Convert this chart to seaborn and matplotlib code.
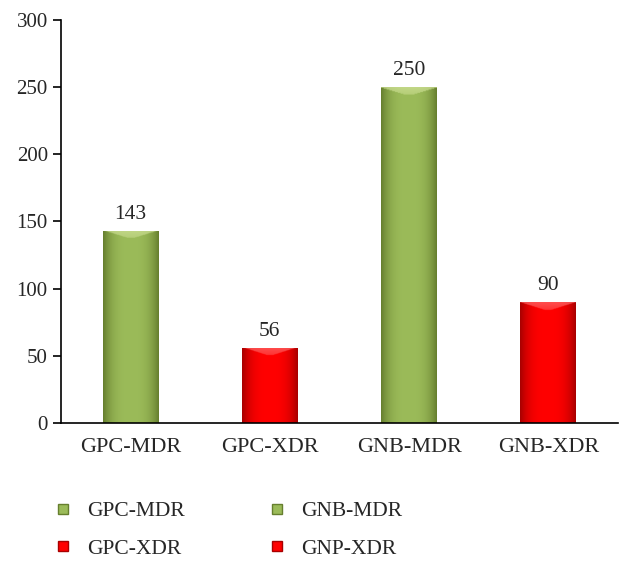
import numpy as np
import pandas as pd
import matplotlib
matplotlib.use('Agg')
import matplotlib.pyplot as plt
import seaborn as sns
from matplotlib.colors import to_rgb
from matplotlib.lines import Line2D

# 데이터
categories = ['GPC-MDR', 'GPC-XDR', 'GNB-MDR', 'GNB-XDR']
counts = [143, 56, 250, 90]
legend_labels = ['GPC-MDR', 'GPC-XDR', 'GNB-MDR', 'GNP-XDR']
yticks = [0, 50, 100, 150, 200, 250, 300]

green = '#9BBB59'
red = '#FF0000'
palette = {'GPC-MDR': green, 'GPC-XDR': red, 'GNB-MDR': green, 'GNB-XDR': red}
dark = {green: '#667F2E', red: '#A80000'}
light = {green: '#D2E39A', red: '#FF7070'}

sns.set_style('white')
plt.rcParams['font.family'] = ['Liberation Serif', 'DejaVu Serif']

df = pd.DataFrame({'cat': categories, 'n': counts})

fig = plt.figure(figsize=(6.34, 5.67), dpi=100)
ax = fig.add_axes([0.0962, 0.254, 0.8785, 0.711])
sns.barplot(data=df, x='cat', y='n', hue='cat', palette=palette, width=0.4,
            legend=False, ax=ax, saturation=1, edgecolor='none')

ax.set_xlim(-0.5, 3.5)
ax.set_ylim(0, 300)

# 막대 입체 효과 (가로 그라데이션 + 윗면 하이라이트)
xs = np.linspace(-1, 1, 80)
tx = 1 - np.abs(xs) ** 3
for p in list(ax.patches):
    fc = p.get_facecolor()[:3]
    key = green if np.allclose(fc, to_rgb(green), atol=0.02) else red
    b, d, l = np.array(to_rgb(key)), np.array(to_rgb(dark[key])), np.array(to_rgb(light[key]))
    x0, y0 = p.get_x(), p.get_y()
    w, h = p.get_width(), p.get_height()
    nrow = 400
    img = d + (b - d) * tx[None, :, None] * np.ones((nrow, 1, 1))
    band = int(nrow * 6.0 / h)
    for r in range(band):
        # 윗면 사다리꼴 모양 하이라이트
        edge = 1 - r / max(band, 1)
        inside = np.abs(xs) <= 1 - (r / max(band, 1)) * 0.9
        a = 0.45 + 0.25 * edge
        img[r, inside] = img[r, inside] * (1 - a) + l * a
    im = ax.imshow(np.clip(img, 0, 1), extent=[x0, x0 + w, y0, y0 + h], aspect='auto',
                   zorder=p.get_zorder() + 0.1, interpolation='bilinear')
    im.set_clip_path(p)
    ax.text(x0 + w / 2, y0 + h + 5, f'{int(round(h))}', ha='center', va='bottom',
            fontsize=15.5)

ax.set_xlim(-0.5, 3.5)
ax.set_ylim(0, 300)
ax.set_yticks(yticks)
ax.set_xticks(range(len(categories)))
ax.set_xticklabels(categories, fontsize=16)
ax.set_xticks([0.5, 1.5, 2.5, 3.5], minor=True)
ax.tick_params(axis='x', which='major', length=0, pad=11)
ax.tick_params(axis='x', which='minor', length=6, width=1.2, color='black', direction='out')
ax.tick_params(axis='y', labelsize=15, length=6, width=1.2, color='black', direction='out', left=True)
ax.set_xlabel('')
ax.set_ylabel('')
for s in ['top', 'right']:
    ax.spines[s].set_visible(False)
for s in ['left', 'bottom']:
    ax.spines[s].set_color('black')
    ax.spines[s].set_linewidth(1.2)

# 범례
leg_colors = [green, red, green, red]
handles = [Line2D([], [], marker='s', linestyle='', markersize=7,
                  markerfacecolor=c, markeredgecolor=dark[c]) for c in leg_colors]
fig.legend(handles, legend_labels, loc='upper left', bbox_to_anchor=(0.0895, 0.116),
           ncol=2, frameon=False, fontsize=15.5, handlelength=0.6, handletextpad=0.8,
           columnspacing=4.0, labelspacing=0.8, borderpad=0, borderaxespad=0)

fig.savefig('out.png', dpi=100)
